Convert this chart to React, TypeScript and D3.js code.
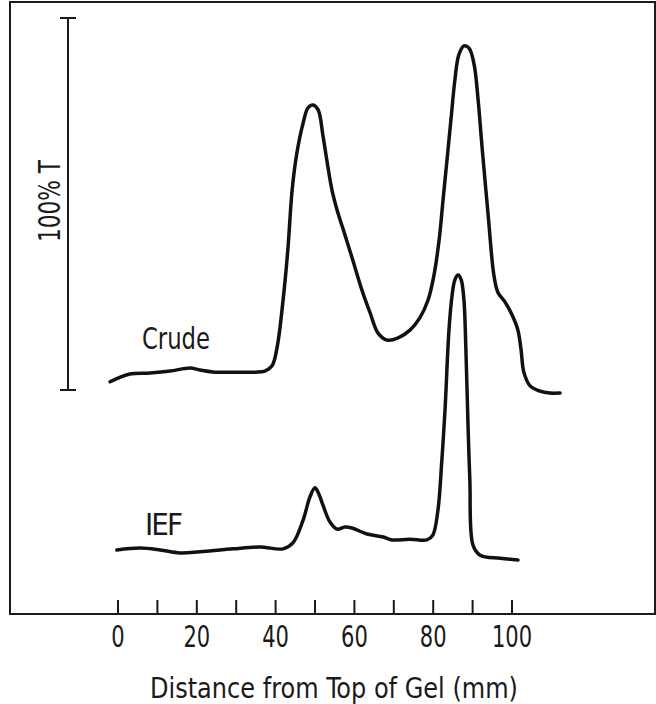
import React from 'react';
import * as d3 from 'd3';

// densitometer traces, x in mm from top of gel, y in %T
const CRUDE_MM = [-2.0, 0, 3, 8.1, 13.2, 18.3, 20.8, 24.6, 29.7, 34.8, 37.3, 39.1, 40.4, 41.9, 43.1, 44.2, 45.4, 47.0, 48.2, 49.5, 50.8, 52.0, 53.0, 54.3, 55.6, 57.6, 59.6, 61.9, 64.0, 66.0, 68.3, 71.1, 74.1, 76.6, 78.7, 80.2, 81.5, 82.5, 83.5, 84.5, 85.5, 86.5, 87.8, 89.1, 90.4, 91.4, 92.4, 93.9, 95.4, 96.4, 98.2, 100, 101.5, 102.3, 103.0, 104.6, 107.1, 109.6, 112.2];
const CRUDE_T = [2.2, 3.2, 4.3, 4.6, 5.1, 5.9, 5.4, 4.8, 4.8, 4.8, 5.1, 6.5, 11.6, 24.2, 37.6, 53.8, 63.7, 71.8, 75.8, 76.6, 75.3, 68.5, 61.8, 53.8, 48.4, 41.7, 34.9, 26.9, 20.7, 15.3, 13.4, 14.0, 16.1, 19.4, 24.2, 30.9, 40.3, 51.1, 61.8, 72.6, 83.3, 90.1, 92.5, 91.9, 87.4, 78.0, 65.3, 47.6, 30.9, 26.3, 23.7, 20.2, 16.1, 10.8, 4.8, 1.1, -0.3, -0.8, -0.8];

const IEF_MM = [-0.3, 5.6, 10.7, 15.7, 20.8, 29.2, 36.0, 41.9, 44.4, 47.0, 48.7, 50.0, 51.0, 52.0, 53.8, 55.6, 57.6, 59.4, 63.2, 67.3, 69.5, 74.1, 78.4, 79.9, 81.2, 82.2, 83.0, 84.0, 84.8, 85.5, 86.3, 87.1, 87.8, 88.3, 88.8, 89.3, 90.1, 91.9, 97.0, 101.5];
const IEF_T = [2.7, 3.2, 2.7, 1.9, 2.2, 3.0, 3.5, 3.0, 4.6, 10.8, 16.9, 19.4, 17.7, 14.8, 10.2, 8.3, 8.9, 8.6, 7.0, 6.2, 5.4, 5.6, 5.4, 6.7, 13.4, 26.9, 40.3, 61.8, 71.2, 75.3, 76.6, 75.3, 69.9, 56.5, 37.6, 21.5, 4.0, 1.3, 0.5, 0];
const IEF_SHIFT = -45.7; // trace is offset below the crude one

const X_TICKS = d3.range(0, 101, 10);
const X_LABELS = [0, 20, 40, 60, 80, 100];

const font = "'DejaVu Sans Condensed', 'Liberation Sans Narrow', sans-serif";
const ink = '#1a1a1a';

export default function App() {
  const width = 656;
  const height = 704;
  const frame = { left: 10, top: 2, right: 655, bottom: 614 };

  const x = d3.scaleLinear().domain([0, 100]).range([118, 512]);
  const y = d3.scaleLinear().domain([0, 100]).range([390, 18]);

  const line = d3.line<[number, number]>()
    .x(d => x(d[0]))
    .y(d => y(d[1]))
    .curve(d3.curveCatmullRom.alpha(0.5));

  const crude = line(CRUDE_MM.map((m, i) => [m, CRUDE_T[i]]));
  const ief = line(IEF_MM.map((m, i) => [m, IEF_T[i] + IEF_SHIFT]));

  return (
    <svg width={width} height={height} style={{ position: 'absolute', left: 0, top: 0, background: '#fff' }}>
      <rect x={frame.left} y={frame.top} width={frame.right - frame.left} height={frame.bottom - frame.top}
        fill="none" stroke={ink} strokeWidth={2} />

      {/* 100% T scale bar */}
      <g stroke={ink} strokeWidth={2}>
        <line x1={68} x2={68} y1={y(100)} y2={y(0)} />
        <line x1={60} x2={76} y1={y(100)} y2={y(100)} />
        <line x1={60} x2={76} y1={y(0)} y2={y(0)} />
      </g>
      <text transform={`translate(60, 201) rotate(-90)`} textAnchor="middle" fontFamily={font}
        fontSize={31} textLength={82} lengthAdjust="spacingAndGlyphs" fill={ink}>100% T</text>

      <path d={crude ?? ''} fill="none" stroke="#111" strokeWidth={3.5} strokeLinejoin="round" strokeLinecap="round" />
      <path d={ief ?? ''} fill="none" stroke="#111" strokeWidth={3.5} strokeLinejoin="round" strokeLinecap="round" />

      <text x={142} y={349} fontFamily={font} fontSize={30} textLength={68} lengthAdjust="spacingAndGlyphs" fill={ink}>Crude</text>
      <text x={145} y={535} fontFamily={font} fontSize={31} textLength={38} lengthAdjust="spacing" fill={ink}>IEF</text>

      {/* x axis ticks on the frame bottom */}
      <g stroke={ink} strokeWidth={2}>
        {X_TICKS.map(t => (
          <line key={t} x1={x(t)} x2={x(t)} y1={frame.bottom - 14} y2={frame.bottom} />
        ))}
      </g>
      {X_LABELS.map(t => (
        <text key={t} transform={`translate(${x(t)}, 647) scale(0.78, 1)`} textAnchor="middle"
          fontFamily={font} fontSize={30} fill={ink}>{t}</text>
      ))}
      <text x={150} y={698} fontFamily={font} fontSize={29} textLength={368} lengthAdjust="spacingAndGlyphs" fill={ink}>
        Distance from Top of Gel (mm)
      </text>
    </svg>
  );
}
